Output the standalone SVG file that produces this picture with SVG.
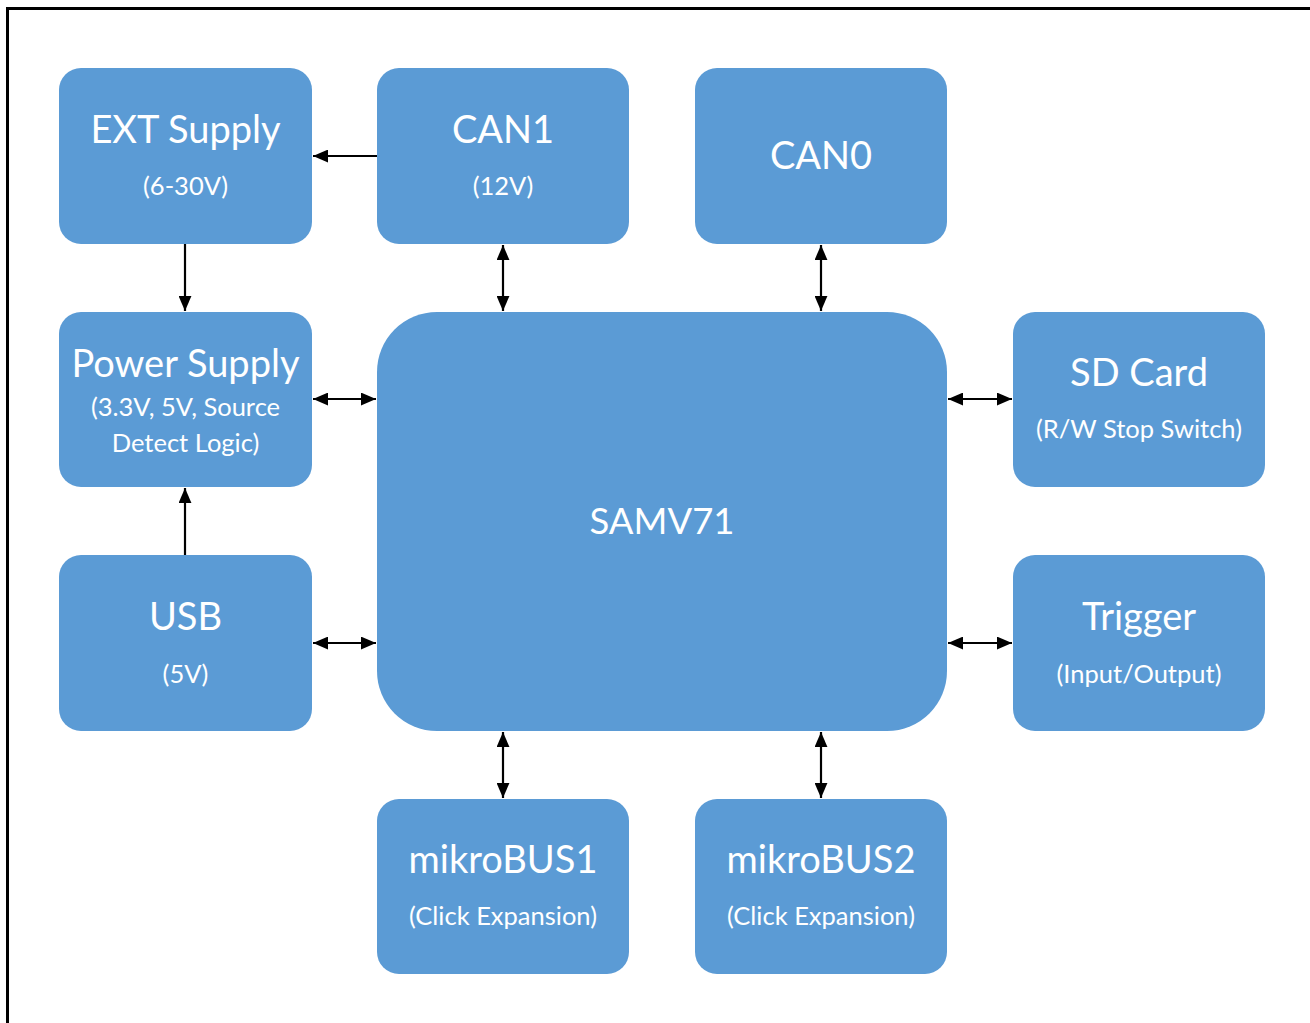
<svg xmlns="http://www.w3.org/2000/svg" width="1310" height="1023" viewBox="0 0 1310 1023">
<defs>
<style>
.box{fill:#5b9bd5;}
.t{font-family:Lato,"Open Sans","Liberation Sans",sans-serif;fill:#ffffff;text-anchor:middle;}
.h{font-size:38px;}
.s{font-size:25.5px;}
.big{font-size:36.5px;}
.c{stroke:#000;stroke-width:2.2;fill:none;}
</style>
<marker id="a" viewBox="0 0 14 12" refX="14" refY="6" markerWidth="15" markerHeight="13" markerUnits="userSpaceOnUse" orient="auto-start-reverse">
<path d="M0,0 L14,6 L0,12 z" fill="#000"/>
</marker>
</defs>
<rect width="1310" height="1023" fill="#ffffff"/>
<path d="M7.5,1023 V8.5 H1310" fill="none" stroke="#000" stroke-width="3"/>

<g id="ext-supply"><rect class="box" x="59" y="68" width="253" height="176" rx="22"/>
<text class="t h" x="185.5" y="143">EXT Supply</text><text class="t s" x="185.5" y="195">(6-30V)</text></g>
<g id="can1"><rect class="box" x="377" y="68" width="252" height="176" rx="22"/>
<text class="t h" x="503" y="143">CAN1</text><text class="t s" x="503" y="195">(12V)</text></g>
<g id="can0"><rect class="box" x="695" y="68" width="252" height="176" rx="22"/>
<text class="t h" x="821" y="169">CAN0</text></g>
<g id="power-supply"><rect class="box" x="59" y="312" width="253" height="175" rx="22"/>
<text class="t h" x="185.5" y="377">Power Supply</text><text class="t s" x="185.5" y="416">(3.3V, 5V, Source</text><text class="t s" x="185.5" y="452">Detect Logic)</text></g>
<g id="usb"><rect class="box" x="59" y="555" width="253" height="176" rx="22"/>
<text class="t h" x="185.5" y="630">USB</text><text class="t s" x="185.5" y="683">(5V)</text></g>
<g id="samv71"><rect class="box" x="377" y="312" width="570" height="419" rx="60"/>
<text class="t big" x="662" y="534">SAMV71</text></g>
<g id="sd-card"><rect class="box" x="1013" y="312" width="252" height="175" rx="22"/>
<text class="t h" x="1139" y="386">SD Card</text><text class="t s" x="1139" y="438">(R/W Stop Switch)</text></g>
<g id="trigger"><rect class="box" x="1013" y="555" width="252" height="176" rx="22"/>
<text class="t h" x="1139" y="630">Trigger</text><text class="t s" x="1139" y="683">(Input/Output)</text></g>
<g id="mikrobus1"><rect class="box" x="377" y="799" width="252" height="175" rx="22"/>
<text class="t h" x="503" y="873">mikroBUS1</text><text class="t s" x="503" y="925">(Click Expansion)</text></g>
<g id="mikrobus2"><rect class="box" x="695" y="799" width="252" height="175" rx="22"/>
<text class="t h" x="821" y="873">mikroBUS2</text><text class="t s" x="821" y="925">(Click Expansion)</text></g>

<g id="connectors">
<line class="c" x1="377" y1="156" x2="313" y2="156" marker-end="url(#a)"/>
<line class="c" x1="185" y1="244" x2="185" y2="311" marker-end="url(#a)"/>
<line class="c" x1="185" y1="555" x2="185" y2="488" marker-end="url(#a)"/>
<line class="c" x1="313" y1="399" x2="376" y2="399" marker-start="url(#a)" marker-end="url(#a)"/>
<line class="c" x1="313" y1="643" x2="376" y2="643" marker-start="url(#a)" marker-end="url(#a)"/>
<line class="c" x1="948" y1="399" x2="1012" y2="399" marker-start="url(#a)" marker-end="url(#a)"/>
<line class="c" x1="948" y1="643" x2="1012" y2="643" marker-start="url(#a)" marker-end="url(#a)"/>
<line class="c" x1="503" y1="245" x2="503" y2="311" marker-start="url(#a)" marker-end="url(#a)"/>
<line class="c" x1="821" y1="245" x2="821" y2="311" marker-start="url(#a)" marker-end="url(#a)"/>
<line class="c" x1="503" y1="732" x2="503" y2="798" marker-start="url(#a)" marker-end="url(#a)"/>
<line class="c" x1="821" y1="732" x2="821" y2="798" marker-start="url(#a)" marker-end="url(#a)"/>
</g>
</svg>
